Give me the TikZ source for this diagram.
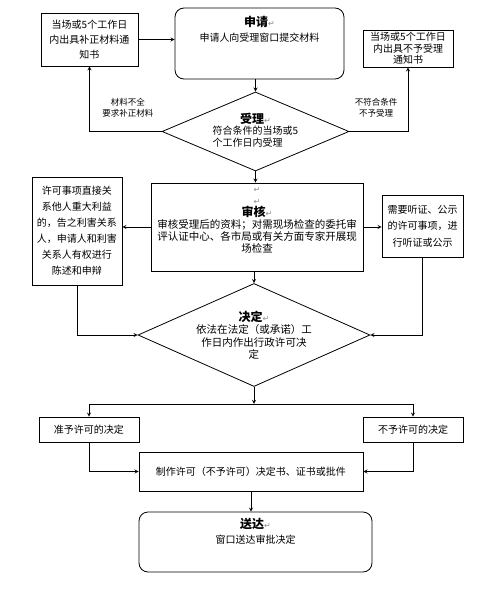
\documentclass[tikz,border=0pt]{standalone}
\usepackage{fontspec}
\setmainfont{Noto Sans CJK SC}
\newfontfamily\symfont{DejaVu Sans}
\usepackage{tikz}
\usetikzlibrary{shapes.geometric, arrows, calc}
\newcommand{\pmark}{{\symfont\fontsize{8}{8}\selectfont\color{black!45}↵}}
\newcommand{\ttl}[1]{{\fontsize{12}{14}\selectfont\bfseries #1}\pmark}
\tikzstyle{textbox} = [rectangle, draw=black, inner sep=1pt, align=center, font=\fontsize{10}{15}\selectfont]
\tikzstyle{roundbox} = [rectangle, rounded corners=9pt, draw=black, inner sep=0pt]
\tikzstyle{decision} = [diamond, draw=black, inner sep=0pt]
\tikzstyle{boxtext} = [align=center, inner sep=0pt, font=\fontsize{10}{15}\selectfont]
\tikzstyle{note} = [align=center, inner sep=0pt, font=\fontsize{8.5}{11}\selectfont]
\tikzstyle{arrow} = [->,>=stealth]

\begin{document}
\begin{tikzpicture}[node distance=88pt, line width=0.8pt]
\useasboundingbox (-259.5pt,43.5pt) rectangle (226.5pt,-547.5pt);
\node (nshen) [roundbox, minimum width=169pt, minimum height=71pt] {};
\node (shentext) [boxtext, anchor=north] at ([yshift=-8pt]nshen.north) {\ttl{申请}\\申请人向受理窗口提交材料};
\node (nsupp) [textbox, left of=nshen, xshift=-82pt, yshift=4pt, minimum width=97pt, minimum height=53pt] {当场或5个工作日\\内出具补正材料通\\知书};
\node (nrej) [textbox, right of=nshen, xshift=60.5pt, yshift=-5pt, minimum width=90pt, minimum height=37pt, font=\fontsize{10}{11.5}\selectfont] {当场或5个工作日\\内出具不予受理\\通知书};
\node (dacc) [decision, below of=nshen, xshift=-4pt, minimum width=187pt, minimum height=79pt] {};
\node (acctext) [boxtext, font=\fontsize{10}{11.5}\selectfont] at (dacc) {\ttl{受理}\\\begin{tabular}{@{}l@{}}符合条件的当场或5\\个工作日内受理\end{tabular}};
\node (lblsupp) [note, left of=dacc, xshift=-39.5pt, yshift=24pt] {材料不全\\要求补正材料};
\node (lblrej) [note, right of=dacc, xshift=32.5pt, yshift=24pt] {不符合条件\\不予受理};
\node (nrev) [rectangle, draw=black, below of=dacc, xshift=1.5pt, yshift=-7.5pt, minimum width=212pt, minimum height=88pt] {};
\node (revtext) [boxtext, anchor=north, font=\fontsize{10.5}{12}\selectfont] at ([yshift=-4pt]nrev.north) {\pmark\\\pmark\\\ttl{审核}\\审核受理后的资料；对需现场检查的委托审\\评认证中心、各市局或有关方面专家开展现\\场检查};
\node (nstate) [textbox, left of=nrev, xshift=-92pt, yshift=-4pt, minimum width=90pt, minimum height=108pt, font=\fontsize{10}{16}\selectfont] {许可事项直接关\\系他人重大利益\\的，告之利害关系\\人，申请人和利害\\关系人有权进行\\陈述和申辩};
\node (npub) [textbox, right of=nrev, xshift=77.5pt, yshift=1pt, minimum width=81pt, minimum height=62pt, font=\fontsize{10}{16.5}\selectfont] {需要听证、公示\\的许可事项，进\\行听证或公示};
\node (ddec) [decision, below of=nrev, xshift=-3pt, yshift=-20pt, minimum width=232pt, minimum height=103pt] {};
\node (dectext) [boxtext, font=\fontsize{10.5}{12.5}\selectfont] at (ddec) {\ttl{决定}\\依法在法定（或承诺）工\\作日内作出行政许可决\\定};
\coordinate (split) at ([yshift=-17pt]ddec.south);
\node (ngrant) [textbox, below of=ddec, xshift=-165pt, yshift=-6.5pt, minimum width=100pt, minimum height=25pt] {准予许可的决定};
\node (ndeny) [textbox, below of=ddec, xshift=159pt, yshift=-6.5pt, minimum width=100pt, minimum height=25pt] {不予许可的决定};
\node (nmake) [textbox, below of=ddec, xshift=-3pt, yshift=-48.5pt, minimum width=224pt, minimum height=39pt] {制作许可（不予许可）决定书、证书或批件};
\node (nsend) [roundbox, below of=nmake, xshift=4.5pt, yshift=17.5pt, minimum width=233pt, minimum height=60pt] {};
\node (sendtext) [boxtext, anchor=north] at ([yshift=-6pt]nsend.north) {\ttl{送达}\\窗口送达审批决定};

\draw [arrow] (nsupp.east) -- (nsupp.east -| nshen.west);
\draw [arrow] (nshen.south -| dacc.north) -- (dacc.north);
\draw [arrow] (dacc.west) -| (nsupp.south);
\draw [arrow] (dacc.east) -| (nrej.south);
\draw [arrow] (dacc.south) -- (dacc.south |- nrev.north);
\draw [arrow] (nrev.west) -- (nrev.west -| nstate.east);
\draw [arrow] (nrev.east) -- (nrev.east -| npub.west);
\draw [arrow] (nrev.south -| ddec.north) -- (ddec.north);
\draw [arrow] (nstate.south) |- (ddec.west);
\draw [arrow] (npub.south) |- (ddec.east);
\draw [arrow] (ddec.south) -- (split);
\draw (split -| ngrant.north) -- (split -| ndeny.north);
\draw [arrow] (split -| ngrant.north) -- (ngrant.north);
\draw [arrow] (split -| ndeny.north) -- (ndeny.north);
\draw [arrow] (ngrant.south) |- (nmake.west);
\draw [arrow] (ndeny.south) |- (nmake.east);
\draw [arrow] (nmake.south) -- (nmake.south |- nsend.north);
\end{tikzpicture}
\end{document}
